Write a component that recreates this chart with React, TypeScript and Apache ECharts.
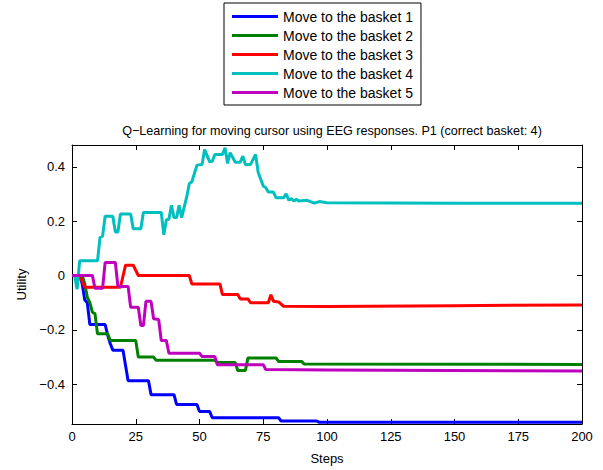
import React, { useEffect, useRef } from "react";
import * as echarts from "echarts";

const seriesNames = [
  "Move to the basket 1",
  "Move to the basket 2",
  "Move to the basket 3",
  "Move to the basket 4",
  "Move to the basket 5",
];
const seriesColors = ["#0000ff", "#008000", "#ff0000", "#00bfbf", "#bf00bf"];

const xTicks = [0, 25, 50, 75, 100, 125, 150, 175, 200];
const yTicks = [-0.4, -0.2, 0, 0.2, 0.4];

const basket1 = [
  [0, 0], [3, 0], [4, -0.03], [5, -0.09], [6, -0.1], [7, -0.18], [13, -0.18], [14, -0.22],
  [15, -0.25], [16, -0.275], [20, -0.275], [22, -0.387], [30, -0.387], [31, -0.438],
  [40, -0.438], [41, -0.474], [49, -0.474], [50, -0.5], [54, -0.5], [55, -0.523],
  [81, -0.523], [82, -0.535], [96, -0.535], [97, -0.54], [200, -0.54],
];
const basket2 = [
  [0, 0], [4, 0], [5, -0.03], [6, -0.08], [7, -0.1], [8, -0.135], [9, -0.14], [10, -0.214],
  [14, -0.214], [15, -0.239], [25, -0.239], [26, -0.3], [32, -0.3], [33, -0.312],
  [56, -0.312], [57, -0.32], [64, -0.32], [65, -0.349], [68, -0.349], [69, -0.303],
  [80, -0.303], [81, -0.316], [90, -0.316], [91, -0.325], [200, -0.327],
];
const basket3 = [
  [0, 0], [3, 0], [5, -0.043], [19, -0.043], [21, 0.038], [24, 0.038], [26, 0], [46, 0],
  [47, -0.031], [58, -0.031], [59, -0.07], [65, -0.07], [66, -0.086], [69, -0.086],
  [70, -0.1], [77, -0.1], [78, -0.071], [79, -0.095], [81, -0.097], [83, -0.113],
  [100, -0.114], [150, -0.111], [200, -0.108],
];
const basket4 = [
  [0, 0], [1, 0], [2, -0.05], [3, 0.054], [10, 0.054], [11, 0.14], [12, 0.145], [13, 0.218],
  [16, 0.218], [17, 0.16], [18, 0.16], [19, 0.226], [23, 0.226], [24, 0.172], [27, 0.172],
  [28, 0.232], [35, 0.232], [36, 0.15], [37, 0.205], [38, 0.207], [39, 0.258], [40, 0.213],
  [41, 0.213], [42, 0.258], [43, 0.213], [45, 0.29], [46, 0.338], [47, 0.345], [49, 0.406],
  [51, 0.408], [52, 0.463], [54, 0.418], [55, 0.42], [56, 0.445], [59, 0.445], [60, 0.47],
  [61, 0.412], [62, 0.452], [64, 0.417], [66, 0.417], [67, 0.439], [68, 0.408], [70, 0.408],
  [72, 0.445], [73, 0.38], [75, 0.329], [76, 0.323], [77, 0.307], [79, 0.307], [80, 0.286],
  [83, 0.286], [84, 0.301], [85, 0.277], [86, 0.283], [87, 0.274], [88, 0.28], [89, 0.274],
  [92, 0.277], [94, 0.27], [95, 0.266], [97, 0.272], [100, 0.268], [125, 0.267],
  [150, 0.266], [175, 0.266], [200, 0.266],
];
const basket5 = [
  [0, 0], [8, 0], [9, -0.047], [12, -0.047], [13, 0.048], [17, 0.048], [18, -0.04],
  [22, -0.04], [23, -0.117], [26, -0.117], [27, -0.184], [28, -0.184], [29, -0.095],
  [31, -0.095], [32, -0.159], [34, -0.162], [35, -0.239], [37, -0.239], [38, -0.286],
  [50, -0.286], [51, -0.298], [56, -0.298], [57, -0.328], [75, -0.328], [76, -0.346],
  [100, -0.347], [200, -0.351],
];
const allSeries = [basket1, basket2, basket3, basket4, basket5];

const FONT = "'Liberation Sans', Arial, Helvetica, sans-serif";

export default function App() {
  const ref = useRef<HTMLDivElement>(null);
  useEffect(() => {
    if (!ref.current) return;
    const chart = echarts.init(ref.current, undefined, { renderer: "svg" });
    const fmtY = (v: number) => {
      const r = Math.round(v * 10) / 10;
      if (r === 0) return "0";
      return (r < 0 ? "\u2212" : "") + Math.abs(r).toString();
    };
    const axisLine = { show: true, onZero: false, lineStyle: { color: "#000", width: 1 } };
    const tick = { show: true, inside: true, length: 5, lineStyle: { color: "#000", width: 1 } };
    chart.setOption({
      animation: false,
      backgroundColor: "#fff",
      textStyle: { fontFamily: FONT },
      title: {
        text: "Q\u2212Learning for moving cursor using EEG responses. P1 (correct basket: 4)",
        left: 327,
        textAlign: "center",
        top: 119,
        textStyle: { fontFamily: FONT, fontSize: 12.6, fontWeight: "normal", color: "#000" },
      },
      legend: {
        orient: "vertical",
        left: 224,
        top: 3,
        icon: "rect",
        itemWidth: 46,
        itemHeight: 3,
        itemGap: 4,
        itemTextGap: 6,
        padding: [6, 8, 5, 8],
        borderColor: "#000",
        borderWidth: 1,
        backgroundColor: "#fff",
        textStyle: {
          fontFamily: FONT,
          fontSize: 14,
          color: "#000",
          lineHeight: 15,
          height: 15,
        },
        data: seriesNames.map((n, i) => ({ name: n, itemStyle: { color: seriesColors[i] } })),
      },
      grid: { left: 72, top: 145, width: 510, height: 281, containLabel: false },
      xAxis: [
        {
          type: "value",
          min: 0,
          max: 200,
          interval: 25,
          position: "bottom",
          axisLine,
          axisTick: tick,
          splitLine: { show: false },
          axisLabel: { color: "#000", fontSize: 13, fontFamily: FONT, margin: 6 },
          name: "Steps",
          nameLocation: "middle",
          nameGap: 28,
          nameTextStyle: { color: "#000", fontSize: 13, fontFamily: FONT },
        },
        {
          type: "value",
          min: 0,
          max: 200,
          interval: 25,
          position: "top",
          axisLine,
          axisTick: tick,
          splitLine: { show: false },
          axisLabel: { show: false },
        },
      ],
      yAxis: [
        {
          type: "value",
          min: -0.546,
          max: 0.48,
          position: "left",
          axisLine,
          axisTick: { ...tick, customValues: yTicks },
          splitLine: { show: false },
          axisLabel: {
            customValues: yTicks,
            formatter: fmtY,
            color: "#000",
            fontSize: 13,
            fontFamily: FONT,
            margin: 7,
          },
          name: "Utility",
          nameLocation: "middle",
          nameRotate: 90,
          nameGap: 44,
          nameTextStyle: { color: "#000", fontSize: 13, fontFamily: FONT },
        },
        {
          type: "value",
          min: -0.546,
          max: 0.48,
          position: "right",
          axisLine,
          axisTick: { ...tick, customValues: yTicks },
          splitLine: { show: false },
          axisLabel: { show: false, customValues: yTicks },
        },
      ],
      series: allSeries.map((d, i) => ({
        name: seriesNames[i],
        type: "line",
        data: d,
        xAxisIndex: 0,
        yAxisIndex: 0,
        symbol: "none",
        showSymbol: false,
        lineStyle: { color: seriesColors[i], width: 3 },
        itemStyle: { color: seriesColors[i] },
        emphasis: { disabled: true },
      })),
    });
    return () => chart.dispose();
  }, []);
  return (
    <div
      ref={ref}
      style={{ position: "fixed", left: 0, top: 0, width: 603, height: 470, background: "#fff" }}
    />
  );
}
